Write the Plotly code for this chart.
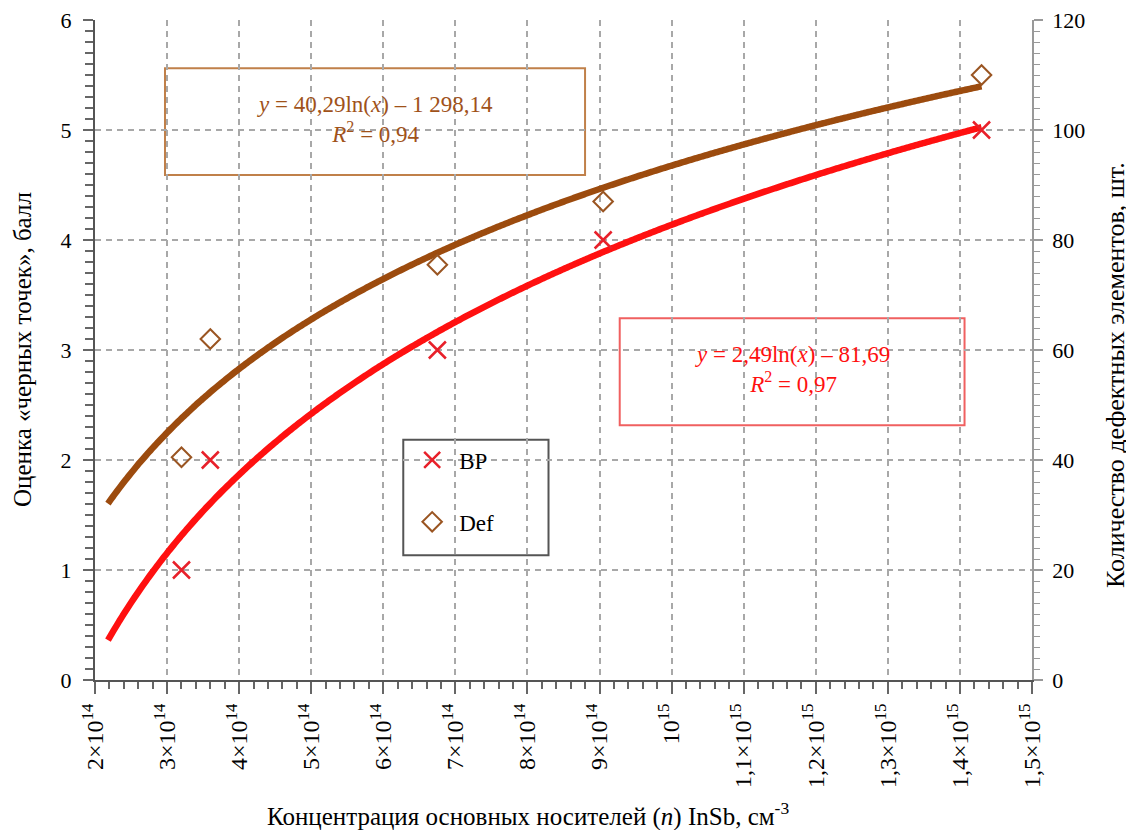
import numpy as np
import plotly.graph_objects as go

# ---- data ----
conc = [3.2e14, 3.6e14, 6.75e14, 9.05e14, 1.43e15]      # carrier concentration, cm^-3
bp_score = [1, 2, 3, 4, 5]                               # "black points" score (left axis)
def_count = [40.5, 62, 75.5, 87, 110]                    # defective elements (right axis)
trend_start = 2.18e14                                    # trendline backward forecast start

x_tickvals = [2e14, 3e14, 4e14, 5e14, 6e14, 7e14, 8e14, 9e14, 1e15,
              1.1e15, 1.2e15, 1.3e15, 1.4e15, 1.5e15]
x_ticktext = ["2×10<sup>14</sup>", "3×10<sup>14</sup>", "4×10<sup>14</sup>", "5×10<sup>14</sup>",
              "6×10<sup>14</sup>", "7×10<sup>14</sup>", "8×10<sup>14</sup>", "9×10<sup>14</sup>",
              "10<sup>15</sup>", "1,1×10<sup>15</sup>", "1,2×10<sup>15</sup>", "1,3×10<sup>15</sup>",
              "1,4×10<sup>15</sup>", "1,5×10<sup>15</sup>"]

bp_eq = "<i>y</i> = 2,49ln(<i>x</i>) – 81,69<br><i>R</i><sup>2</sup> = 0,97"
def_eq = "<i>y</i> = 40,29ln(<i>x</i>) – 1 298,14<br><i>R</i><sup>2</sup> = 0,94"

RED = "#FF1010"
BROWN = "#9C4B0E"
FONT = "Liberation Serif, Times New Roman, serif"

# logarithmic trendlines fitted to the data
lx = np.log(conc)
a_bp, b_bp = np.polyfit(lx, bp_score, 1)
a_df, b_df = np.polyfit(lx, def_count, 1)
tx = np.linspace(trend_start, max(conc), 300)

fig = go.Figure()
fig.add_trace(go.Scatter(x=tx, y=a_df * np.log(tx) + b_df, mode="lines", yaxis="y2",
                         line=dict(color=BROWN, width=6.5, shape="spline"), showlegend=False,
                         hoverinfo="skip"))
fig.add_trace(go.Scatter(x=tx, y=a_bp * np.log(tx) + b_bp, mode="lines",
                         line=dict(color=RED, width=6.5, shape="spline"), showlegend=False,
                         hoverinfo="skip"))
fig.add_trace(go.Scatter(x=conc, y=bp_score, mode="markers", name="BP", legendgroup="bp",
                         marker=dict(symbol="x-thin", size=17, line=dict(color="#E8202A", width=2.5))))
fig.add_trace(go.Scatter(x=conc, y=def_count, mode="markers", name="Def", legendgroup="def", yaxis="y2",
                         marker=dict(symbol="diamond-open", size=15, color="#9A5522",
                                     line=dict(width=2))))

grid = dict(showgrid=True, gridcolor="#A8A8A8", gridwidth=1.5, griddash="6px,5px")
fig.update_layout(
    width=1134, height=830,
    margin=dict(l=87, r=110, t=12, b=158, autoexpand=False),
    paper_bgcolor="white", plot_bgcolor="white",
    font=dict(family=FONT, color="black"),
    xaxis=dict(range=[2e14, 1.5e15], tickvals=x_tickvals, ticktext=x_ticktext, tickangle=-90,
               tickfont=dict(size=24), ticks="outside", ticklen=12, tickwidth=2, tickcolor="#666",
               showline=True, linecolor="#555", linewidth=2, zeroline=False,
               ticklabeloverflow="allow", automargin=False,
               minor=dict(dtick=2e13, ticks="outside", ticklen=7, tickwidth=1.5, tickcolor="#666",
                          showgrid=False),
               **grid),
    yaxis=dict(range=[0, 6], dtick=1, tickfont=dict(size=22), ticks="outside", ticklen=10,
               tickwidth=2, tickcolor="#666", showline=True, linecolor="#555", linewidth=2,
               zeroline=False, ticklabeloverflow="allow", automargin=False, ticklabelstandoff=7,
               minor=dict(dtick=0.1, ticks="outside", ticklen=8, tickwidth=1.5, tickcolor="#666",
                          showgrid=False),
               **grid),
    yaxis2=dict(range=[0, 120], dtick=20, overlaying="y", side="right", tickfont=dict(size=22),
                ticks="outside", ticklen=9, tickwidth=1.5, tickcolor="#999", showline=True,
                linecolor="#999", linewidth=1.5, showgrid=False, zeroline=False,
                ticklabeloverflow="allow", ticklabelstandoff=5, automargin=False,
                minor=dict(dtick=2, ticks="outside", ticklen=6, tickwidth=1, tickcolor="#999",
                           showgrid=False)),
    legend=dict(x=0.331, y=0.366, xanchor="left", yanchor="top", bgcolor="rgba(0,0,0,0)",
                borderwidth=0, font=dict(size=23, family=FONT), tracegroupgap=29, itemwidth=44),
    showlegend=True,
)

# boxes (white filled, above the grid)
fig.add_shape(type="rect", xref="paper", yref="paper", x0=0.0747, x1=0.523, y0=0.765, y1=0.927,
              line=dict(color="#C0804A", width=2), fillcolor="white", layer="between")
fig.add_shape(type="rect", xref="paper", yref="paper", x0=0.560, x1=0.928, y0=0.386, y1=0.548,
              line=dict(color="#F06060", width=2), fillcolor="white", layer="between")
fig.add_shape(type="rect", xref="paper", yref="paper", x0=0.329, x1=0.484, y0=0.189, y1=0.364,
              line=dict(color="#555", width=2), fillcolor="white", layer="between")

fig.add_annotation(xref="paper", yref="paper", x=0.299, y=0.850, text=def_eq, showarrow=False,
                   xanchor="center", yanchor="middle",
                   font=dict(size=23, color="#A0521A", family=FONT), align="center")
fig.add_annotation(xref="paper", yref="paper", x=0.744, y=0.470, text=bp_eq, showarrow=False,
                   xanchor="center", yanchor="middle",
                   font=dict(size=23, color="#FF1010", family=FONT), align="center")

# axis titles
fig.add_annotation(xref="paper", yref="paper", x=(528 - 95) / 937, y=(680 - 814) / 660,
                   text="Концентрация основных носителей (<i>n</i>) InSb, см<sup>-3</sup>",
                   showarrow=False, xanchor="center", yanchor="middle",
                   font=dict(size=25, family=FONT))
fig.add_annotation(xref="paper", yref="paper", x=(22 - 95) / 937, y=(680 - 350) / 660,
                   text="Оценка «черных точек», балл", textangle=-90,
                   showarrow=False, xanchor="center", yanchor="middle",
                   font=dict(size=25, family=FONT))
fig.add_annotation(xref="paper", yref="paper", x=(1115 - 95) / 937, y=(680 - 375) / 660,
                   text="Количество дефектных элементов, шт.", textangle=-90,
                   showarrow=False, xanchor="center", yanchor="middle",
                   font=dict(size=26, family=FONT))

fig.write_html("out.html")
